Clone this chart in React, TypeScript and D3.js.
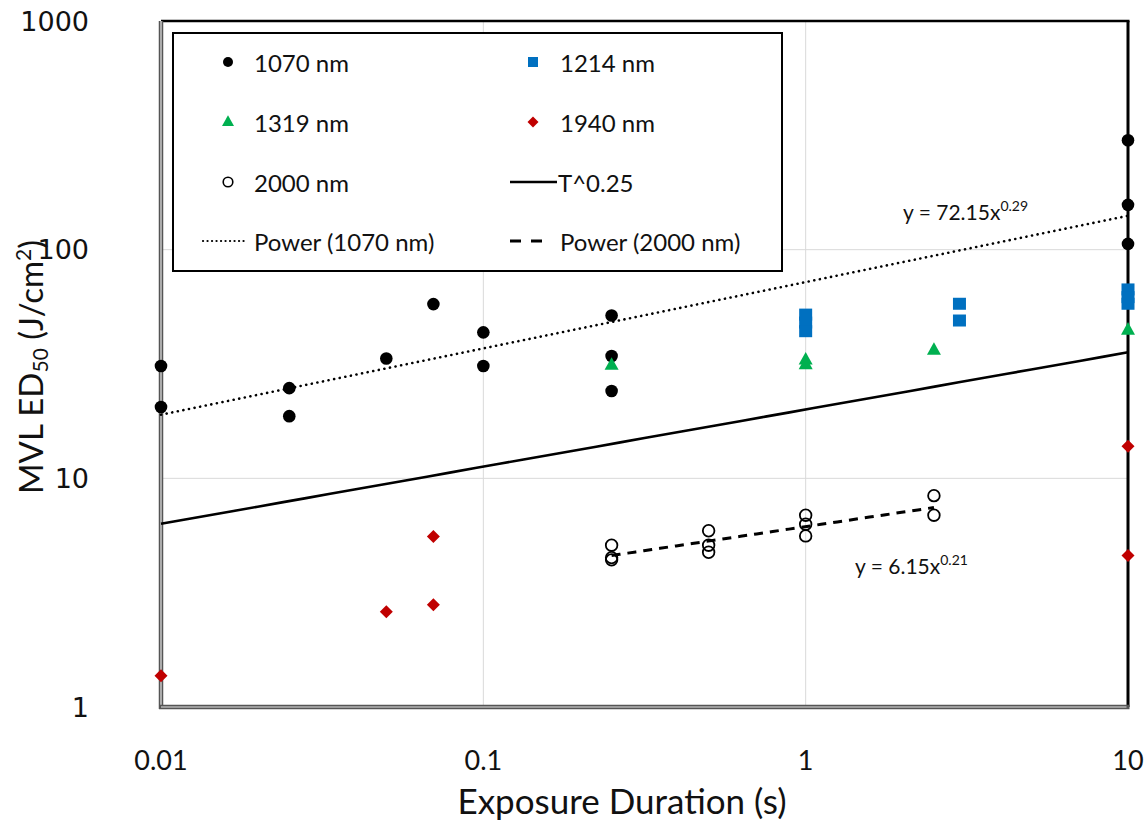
import React from "react";
import * as d3 from "d3";

// Exposure durations (s) and MVL ED50 values (J/cm²) per wavelength
const t1070 = [0.01, 0.01, 0.025, 0.025, 0.05, 0.07, 0.1, 0.1, 0.25, 0.25, 0.25, 10, 10, 10];
const v1070 = [31, 20.5, 24.8, 18.7, 33.4, 57.8, 43.5, 31, 51.5, 34.3, 24.1, 301, 157, 106];

const t1214 = [1, 1, 1, 3, 3, 10, 10, 10];
const v1214 = [52, 48, 44, 58, 49, 67, 62, 58];

const t1319 = [0.25, 1, 1, 2.5, 10];
const v1319 = [31.3, 33, 31.5, 36.4, 44.6];

const t1940 = [0.01, 0.05, 0.07, 0.07, 10, 10];
const v1940 = [1.37, 2.61, 5.57, 2.8, 13.8, 4.6];

const t2000 = [0.25, 0.25, 0.25, 0.5, 0.5, 0.5, 1, 1, 1, 2.5, 2.5];
const v2000 = [5.1, 4.5, 4.4, 5.9, 5.1, 4.75, 6.9, 6.3, 5.6, 8.4, 6.9];

// Power-law curves: y = a * x^b over [x0, x1]
const fit1070 = { a: 72.15, b: 0.29, x0: 0.01, x1: 10 };
const fit2000 = { a: 6.15, b: 0.21, x0: 0.25, x1: 2.5 };
const quarterPower = { a: 20, b: 0.25, x0: 0.01, x1: 10 };

const xTicks = [0.01, 0.1, 1, 10];
const xTickLabels = ["0.01", "0.1", "1", "10"];
const yTicks = [1, 10, 100, 1000];
const yTickLabels = ["1", "10", "100", "1000"];

const BLACK = "#000000";
const BLUE = "#0070C0";
const GREEN = "#00B050";
const RED = "#C00000";

const LEFT = 161;
const RIGHT = 1128;
const TOP = 21;
const BOTTOM = 707;

const x = d3.scaleLog().domain([0.01, 10]).range([LEFT, RIGHT]);
const y = d3.scaleLog().domain([1, 1000]).range([BOTTOM, TOP]);

const line = d3
  .line<[number, number]>()
  .x((d) => x(d[0]))
  .y((d) => y(d[1]));

function powerPath(f: { a: number; b: number; x0: number; x1: number }) {
  const pts: [number, number][] = d3.range(0, 41).map((i) => {
    const lx = Math.log10(f.x0) + (i / 40) * (Math.log10(f.x1) - Math.log10(f.x0));
    const xv = Math.pow(10, lx);
    return [xv, f.a * Math.pow(xv, f.b)];
  });
  return line(pts) || "";
}

const zip = (t: number[], v: number[]) => t.map((tv, i) => [tv, v[i]] as [number, number]);

const triPath = (s: number) => {
  const h = s * 0.9;
  return `M0,${-h * 0.62}L${s / 2},${h * 0.38}L${-s / 2},${h * 0.38}Z`;
};
const diamondPath = (s: number) => `M0,${-s / 2}L${s / 2},0L0,${s / 2}L${-s / 2},0Z`;

const LABEL_FONT = "Lato, 'Open Sans', sans-serif";

export default function App() {
  const legendRows = [62, 122, 182, 241];
  const c1m = 228;
  const c1t = 254;
  const c2m = 533;
  const c2t = 560;

  return (
    <svg width={1148} height={824} style={{ display: "block", position: "absolute", left: 0, top: 0 }}>
      <rect x={0} y={0} width={1148} height={824} fill="#fff" />

      {/* gridlines */}
      {xTicks.slice(1, -1).map((t) => (
        <line key={"gx" + t} x1={x(t)} x2={x(t)} y1={TOP} y2={BOTTOM} stroke="#d9d9d9" strokeWidth={1} />
      ))}
      {yTicks.slice(1, -1).map((t) => (
        <line key={"gy" + t} x1={LEFT} x2={RIGHT} y1={y(t)} y2={y(t)} stroke="#d9d9d9" strokeWidth={1} />
      ))}

      {/* plot frame */}
      <line x1={LEFT} x2={RIGHT + 1.5} y1={TOP} y2={TOP} stroke={BLACK} strokeWidth={2.5} />
      <line x1={RIGHT} x2={RIGHT} y1={TOP} y2={BOTTOM} stroke={BLACK} strokeWidth={3} />
      <line x1={LEFT} x2={LEFT} y1={TOP} y2={BOTTOM + 2} stroke="#555" strokeWidth={4.5} />
      <line x1={LEFT} x2={LEFT} y1={TOP} y2={BOTTOM} stroke="#e6e6e6" strokeWidth={1.2} />
      <line x1={LEFT - 2} x2={RIGHT + 1.5} y1={BOTTOM} y2={BOTTOM} stroke="#555" strokeWidth={4.5} />
      <line x1={LEFT} x2={RIGHT - 1.5} y1={BOTTOM} y2={BOTTOM} stroke="#e6e6e6" strokeWidth={1.2} />

      {/* axis tick labels */}
      {yTicks.map((t, i) => (
        <text
          key={"yt" + t}
          x={89}
          y={y(t)}
          textAnchor="end"
          dominantBaseline="central"
          fontFamily="'DejaVu Sans', Verdana, sans-serif"
          fontSize={27}
          fill="#111"
        >
          {yTickLabels[i]}
        </text>
      ))}
      {xTicks.map((t, i) => (
        <text
          key={"xt" + t}
          x={x(t)}
          y={759}
          textAnchor="middle"
          dominantBaseline="central"
          fontFamily={LABEL_FONT}
          fontSize={27}
          fill="#111"
        >
          {xTickLabels[i]}
        </text>
      ))}

      {/* axis titles */}
      <text x={622} y={800} textAnchor="middle" dominantBaseline="central" fontFamily={LABEL_FONT} fontSize={35} fill="#111">
        Exposure Duration (s)
      </text>
      <text
        transform="translate(43,367) rotate(-90)"
        textAnchor="middle"
        fontFamily={LABEL_FONT}
        fontSize={33}
        fill="#111"
      >
        <tspan>MVL ED</tspan>
        <tspan fontSize={21} dy={5}>50</tspan>
        <tspan dy={-5}> (J/cm</tspan>
        <tspan fontSize={21} dy={-12}>2</tspan>
        <tspan dy={12}>)</tspan>
      </text>

      {/* reference and power-law curves */}
      <path d={powerPath(quarterPower)} fill="none" stroke={BLACK} strokeWidth={2.6} />
      <path
        d={powerPath(fit1070)}
        fill="none"
        stroke={BLACK}
        strokeWidth={2.6}
        strokeDasharray="0.1,5.6"
        strokeLinecap="round"
      />
      <path d={powerPath(fit2000)} fill="none" stroke={BLACK} strokeWidth={3} strokeDasharray="9,7" />

      {/* markers */}
      {zip(t1214, v1214).map(([t, v], i) => (
        <rect key={"b" + i} x={x(t) - 6.5} y={y(v) - 6} width={13} height={12} fill={BLUE} />
      ))}
      {zip(t1070, v1070).map(([t, v], i) => (
        <circle key={"k" + i} cx={x(t)} cy={y(v)} r={6.3} fill={BLACK} />
      ))}
      {zip(t1319, v1319).map(([t, v], i) => (
        <path key={"g" + i} transform={`translate(${x(t)},${y(v)})`} d={triPath(14)} fill={GREEN} />
      ))}
      {zip(t1940, v1940).map(([t, v], i) => (
        <path key={"r" + i} transform={`translate(${x(t)},${y(v)})`} d={diamondPath(13)} fill={RED} />
      ))}
      {zip(t2000, v2000).map(([t, v], i) => (
        <circle key={"o" + i} cx={x(t)} cy={y(v)} r={5.8} fill="none" stroke={BLACK} strokeWidth={1.8} />
      ))}

      {/* fit equations */}
      <text x={903} y={220} fontFamily={LABEL_FONT} fontSize={21} fill="#111">
        y = 72.15x<tspan fontSize={14} dy={-9}>0.29</tspan>
      </text>
      <text x={855} y={574} fontFamily={LABEL_FONT} fontSize={21} fill="#111">
        y = 6.15x<tspan fontSize={14} dy={-9}>0.21</tspan>
      </text>

      {/* legend */}
      <rect x={173} y={33} width={609} height={238} fill="#fff" stroke={BLACK} strokeWidth={2} />
      <g fontFamily={LABEL_FONT} fontSize={24} fill="#111">
        <circle cx={c1m} cy={legendRows[0]} r={5} fill={BLACK} />
        <text x={c1t} y={legendRows[0]} dominantBaseline="central">1070 nm</text>

        <rect x={c2m - 5} y={legendRows[0] - 5} width={10} height={10} fill={BLUE} />
        <text x={c2t} y={legendRows[0]} dominantBaseline="central">1214 nm</text>

        <path transform={`translate(${c1m},${legendRows[1]})`} d={triPath(12)} fill={GREEN} />
        <text x={c1t} y={legendRows[1]} dominantBaseline="central">1319 nm</text>

        <path transform={`translate(${c2m},${legendRows[1]})`} d={diamondPath(11)} fill={RED} />
        <text x={c2t} y={legendRows[1]} dominantBaseline="central">1940 nm</text>

        <circle cx={c1m} cy={legendRows[2]} r={4.8} fill="none" stroke={BLACK} strokeWidth={1.6} />
        <text x={c1t} y={legendRows[2]} dominantBaseline="central">2000 nm</text>

        <line x1={510} x2={557} y1={legendRows[2]} y2={legendRows[2]} stroke={BLACK} strokeWidth={2.6} />
        <text x={558} y={legendRows[2]} dominantBaseline="central">T^0.25</text>

        <line
          x1={203}
          x2={246}
          y1={legendRows[3]}
          y2={legendRows[3]}
          stroke={BLACK}
          strokeWidth={2.2}
          strokeDasharray="0.1,4.4"
          strokeLinecap="round"
        />
        <text x={c1t} y={legendRows[3]} dominantBaseline="central">Power (1070 nm)</text>

        <line
          x1={510}
          x2={547}
          y1={legendRows[3]}
          y2={legendRows[3]}
          stroke={BLACK}
          strokeWidth={3}
          strokeDasharray="11,10"
        />
        <text x={c2t} y={legendRows[3]} dominantBaseline="central">Power (2000 nm)</text>
      </g>
    </svg>
  );
}
